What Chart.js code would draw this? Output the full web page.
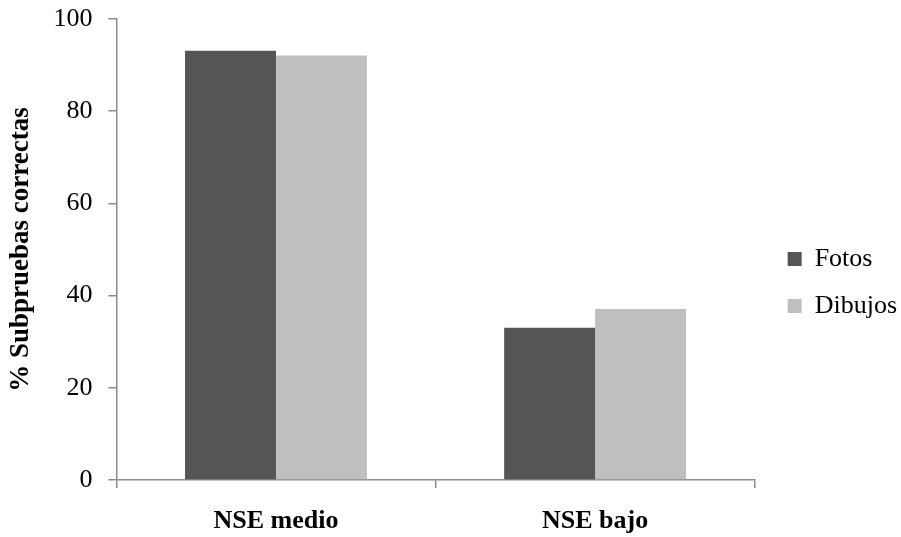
<!DOCTYPE html>
<html lang="es">
<head>
    <meta charset="UTF-8">
    <title>Subpruebas correctas por NSE</title>
    <script src="https://cdn.jsdelivr.net/npm/chart.js"></script>
    <style>
        html, body {
            margin: 0;
            padding: 0;
            background: #ffffff;
        }
        #wrap {
            width: 901px;
            height: 537px;
        }
    </style>
</head>
<body>
<div id="wrap">
    <canvas id="grafico" width="901" height="537"></canvas>
</div>
<script>
    // datos
    var categorias = ['NSE medio', 'NSE bajo'];
    var fotos = [93.1, 33.0];
    var dibujos = [92.1, 37.1];
    var ticksY = [0, 20, 40, 60, 80, 100];

    var fuente = "'Liberation Serif', 'Times New Roman', serif";
    var gris = '#8c8c8c';

    var ctx = document.getElementById('grafico').getContext('2d');
    var grafico = new Chart(ctx, {
        type: 'bar',
        data: {
            labels: categorias,
            datasets: [{
                label: 'Fotos',
                data: fotos,
                backgroundColor: '#555555',
                borderWidth: 0
            }, {
                label: 'Dibujos',
                data: dibujos,
                backgroundColor: '#bfbfbf',
                borderWidth: 0
            }]
        },
        options: {
            responsive: false,
            animation: false,
            layout: {
                padding: { top: 0, right: -6, bottom: 0, left: 5 }
            },
            datasets: {
                bar: {
                    barPercentage: 1.0,
                    categoryPercentage: 0.57
                }
            },
            plugins: {
                tooltip: { enabled: false },
                legend: {
                    position: 'right',
                    align: 'center',
                    // titulo vacio solo para bajar un poco la leyenda
                    title: {
                        display: true,
                        text: '',
                        font: { size: 10 },
                        padding: { top: 0, bottom: 16 }
                    },
                    labels: {
                        boxWidth: 14,
                        boxHeight: 14,
                        padding: 21,
                        color: '#000000',
                        font: { family: fuente, size: 26 }
                    }
                }
            },
            scales: {
                x: {
                    grid: {
                        display: true,
                        offset: true,
                        drawOnChartArea: false,
                        drawTicks: true,
                        tickLength: 8,
                        color: gris,
                        lineWidth: 1.5
                    },
                    border: { display: true, color: gris, width: 1.5 },
                    ticks: {
                        color: '#000000',
                        padding: 18,
                        font: { family: fuente, size: 26, weight: 'bold' }
                    },
                    afterFit: function(eje) {
                        eje.height = 57;
                    }
                },
                y: {
                    min: 0,
                    max: 100,
                    afterBuildTicks: function(eje) {
                        eje.ticks = ticksY.map(function(v) { return { value: v }; });
                    },
                    grid: {
                        display: true,
                        drawOnChartArea: false,
                        drawTicks: true,
                        tickLength: 8,
                        color: gris,
                        lineWidth: 1.5
                    },
                    border: { display: true, color: gris, width: 1.5 },
                    ticks: {
                        color: '#000000',
                        padding: 16,
                        font: { family: fuente, size: 26 }
                    },
                    title: {
                        display: true,
                        text: '% Subpruebas correctas',
                        color: '#000000',
                        padding: { top: 0, bottom: 0 },
                        font: { family: fuente, size: 27, weight: 'bold' }
                    },
                    afterFit: function(eje) {
                        eje.paddingTop = 19;
                        eje.paddingBottom = 16;
                    }
                },
                // eje vacio: deja espacio entre el area y la leyenda
                hueco: {
                    type: 'linear',
                    position: 'right',
                    grid: { display: false },
                    border: { display: false },
                    ticks: { display: false },
                    afterFit: function(eje) {
                        eje.width = 12;
                    }
                }
            }
        }
    });
</script>
</body>
</html>
